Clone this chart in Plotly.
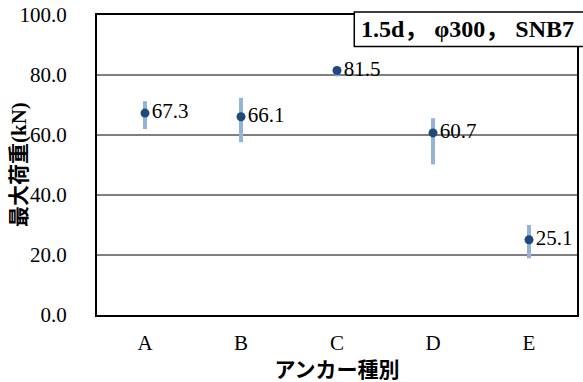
import plotly.graph_objects as go

# アンカー種別ごとの最大荷重（平均値と最小・最大範囲）
categories = ["A", "B", "C", "D", "E"]
mean_load = [67.3, 66.1, 81.5, 60.7, 25.1]
max_load = [71.3, 72.4, 82.0, 65.6, 30.0]
min_load = [62.0, 57.6, 79.5, 50.2, 18.9]
y_ticks = [0, 20, 40, 60, 80, 100]

serif = "'Liberation Serif', 'Times New Roman', 'Noto Sans CJK JP', serif"
gothic = "'Liberation Serif', 'Noto Sans CJK JP', sans-serif"

err_plus = [hi - m for hi, m in zip(max_load, mean_load)]
err_minus = [m - lo for lo, m in zip(min_load, mean_load)]

fig = go.Figure()
fig.add_trace(go.Scatter(
    x=categories,
    y=mean_load,
    mode="markers+text",
    text=[f"{v:.1f}" for v in mean_load],
    textposition="middle right",
    textfont=dict(family=serif, size=21, color="black"),
    marker=dict(color="#1f497d", size=9),
    error_y=dict(type="data", symmetric=False, array=err_plus, arrayminus=err_minus,
                 color="#95b3d7", thickness=4, width=0),
    cliponaxis=False,
    showlegend=False,
))

fig.update_layout(
    width=583, height=382,
    margin=dict(l=97, r=6, t=15, b=67),
    paper_bgcolor="white",
    plot_bgcolor="white",
    font=dict(family=serif, size=21, color="black"),
    xaxis=dict(
        type="category",
        range=[-0.5, 4.5],
        automargin=False,
        showline=True, linecolor="black", linewidth=2, mirror=True,
        showgrid=False, ticks="",
        ticklabelstandoff=8,
        tickfont=dict(family=serif, size=21),
        title=dict(text="<b>アンカー種別</b>",
                   font=dict(family=gothic, size=21)),
    ),
    yaxis=dict(
        range=[0, 100],
        tickvals=y_ticks,
        tickformat=".1f",
        automargin=False,
        showline=True, linecolor="black", linewidth=2, mirror=True,
        showgrid=True, gridcolor="#7f7f7f", gridwidth=1.5,
        zeroline=False, ticks="",
        ticklabelstandoff=24,
        tickfont=dict(family=serif, size=21),
    ),
)

# 縦軸タイトル
fig.add_annotation(xref="paper", yref="paper", x=0, y=0.5, xshift=-78,
                   xanchor="center", yanchor="middle", showarrow=False,
                   textangle=-90, text="<b>最大荷重(kN)</b>",
                   font=dict(family=gothic, size=21, color="black"))

# 試験条件の見出し（右上の枠付きラベル）
fig.add_shape(type="rect", xref="paper", yref="paper",
              x0=0.536, x1=1.2, y0=0.895, y1=1.01,
              line=dict(color="black", width=1.5), fillcolor="white", layer="above")
fig.add_annotation(xref="paper", yref="paper", x=0.545, y=0.953,
                   xanchor="left", yanchor="middle", showarrow=False,
                   text="<b>1.5d，&nbsp;φ300，&nbsp;SNB7</b>",
                   font=dict(family=serif, size=24, color="black"))

fig.write_html("out.html")
